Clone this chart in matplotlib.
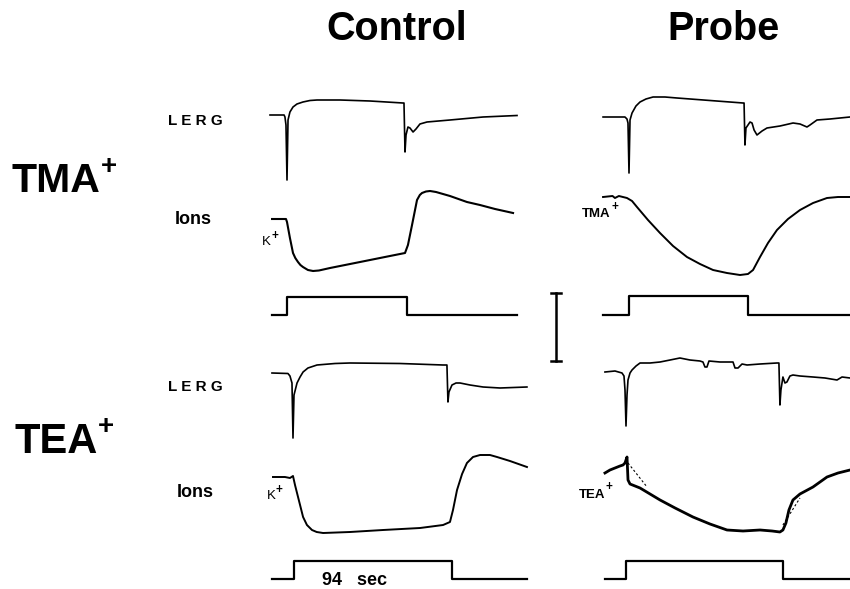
import matplotlib
matplotlib.use("Agg")
import matplotlib.pyplot as plt
from matplotlib.lines import Line2D

W, H, DPI = 850, 589, 100
plt.rcParams['font.family'] = ['Liberation Sans', 'DejaVu Sans']

# ---------------- data (time in s from light onset, amplitude in a.u.) -------------
STIM_DUR = 94.0  # sec

# TMA+ block, Control
tma_ctl_lerg_t = [-13.3, -2.3, -1.6, -0.8, 0, 0.8, 2.3, 4.7, 7.8, 12.5, 18.0, 23.5, 41.5, 65.0,
                  90.8, 91.6, 92.4, 93.2, 94.7, 96.3, 98.7, 101.0, 104.1, 109.6, 127.6, 153.5, 180.1]
tma_ctl_lerg_v = [0, 0, -2, -10, -65, -5, 3, 8, 11, 13, 14.5, 15, 15, 14,
                  12, 12, -37, -20, -12, -13, -17, -14, -9, -7, -5, -2, -0.5]
tma_ctl_ion_t = [-11.7, -0.8, 0, 2.3, 4.7, 6.5, 8.6, 10.5, 12.5, 16.4, 20.4, 25.0, 33.7, 57.2,
                 80.6, 92.4, 94.7, 97.9, 101.8, 104.0, 105.7, 108.8, 112.0, 116.7, 127.6,
                 140.9, 151.1, 162.9, 177.0]
tma_ctl_ion_v = [0, 0, -3, -19, -34, -39, -43, -46, -48, -51, -52, -51.5, -49, -43,
                 -37, -34, -26, -6, 19, 24, 26, 27.5, 28, 27, 23,
                 17, 14, 10, 6]
tma_ctl_stim_t = [-11.7, 0, STIM_DUR, 180.1]
tma_ctl_stim_v = [0, 18, 0, 0]

# TMA+ block, Probe
tma_prb_lerg_t = [-20.5, -3.2, -1.6, -0.8, 0, 0.8, 2.4, 5.5, 8.7, 13.4, 19.0, 28.4, 37.9, 64.0,
                  90.1, 90.9, 91.6, 92.4, 94.0, 95.6, 97.2, 98.8, 101.1, 105.1, 109.0, 119.3,
                  129.6, 135.1, 140.6, 143.0, 148.5, 158.8, 174.6]
tma_prb_lerg_v = [0, 0, -2, -6, -56, -3, 4, 11, 15, 18, 20, 20, 19, 16.5,
                  14, 14, -28, -11, -8, -5, -6, -13, -18, -14, -11, -9,
                  -6, -7, -10, -8, -3, -2, 0]
tma_prb_ion_t = [-20.5, -13.0, -11.1, -8.0, -1.6, 2.4, 6.3, 15.0, 24.5, 34.8, 45.8, 56.1, 66.4,
                 77.4, 87.7, 94.0, 98.0, 103.5, 109.8, 116.9, 125.6, 135.1, 145.4, 156.4,
                 165.1, 174.6]
tma_prb_ion_v = [0, 1, -1, 1, -1, -4, -10, -23, -36, -49, -60, -67, -73,
                 -76, -78, -77, -73, -60, -46, -33, -22, -13, -6, -1, 0, 0]
tma_prb_stim_t = [-20.5, 0, STIM_DUR, 174.6]
tma_prb_stim_v = [0, 19, 0, 0]

# TEA+ block, Control
tea_ctl_lerg_t = [-13.1, -3.6, -2.4, -1.2, -0.6, 0, 1.8, 3.6, 5.4, 8.3, 13.7, 24.4, 33.3, 63.1,
                  88.7, 91.0, 91.6, 92.2, 94.0, 96.4, 98.8, 104.7, 112.5, 122.6, 138.6]
tea_ctl_lerg_v = [0, -0.5, -3, -10, -65, -22, -10, -4, 1, 5, 8, 9.5, 10, 9.5,
                  8, 8, -29, -19, -12, -10, -10, -12, -14, -15, -14]
tea_ctl_ion_t = [-12.5, -5.4, -2.4, -0.6, 0.6, 3.6, 5.4, 7.7, 10.7, 13.5, 17.3, 33.3, 53.0, 75.0,
                 88.7, 92.8, 94.6, 97.0, 100.0, 102.9, 106.5, 110.7, 116.6, 120.8, 128.5, 138.6]
tea_ctl_ion_v = [0, 0, -1, 1, -8, -28, -40, -48, -53, -55, -56, -55, -53, -51,
                 -48, -45, -33, -13, 3, 14, 20, 22, 22, 20, 16, 10]
tea_ctl_stim_t = [-13.1, 0, STIM_DUR, 138.6]
tea_ctl_stim_v = [0, 18, 0, 0]

# TEA+ block, Probe
tea_prb_lerg_t = [-12.6, -6.6, -2.4, -1.2, -0.6, 0, 0.6, 1.2, 2.4, 3.6, 6.0, 8.4, 14.4, 20.4,
                  26.4, 32.3, 38.3, 44.3, 46.1, 47.3, 48.5, 49.7, 56.3, 64.1, 65.3, 67.1, 69.5,
                  72.5, 80.3, 90.4, 91.6, 92.2, 92.8, 94.0, 95.2, 96.4, 98.2, 100.0, 104.2,
                  112.0, 119.2, 126.4, 129.4, 134.2]
tea_prb_lerg_v = [0, 1, -1, -4, -18, -54, -23, -8, -1, 2, 6, 9, 9, 10,
                  12, 14, 12, 11, 10, 5, 5, 11, 10, 10, 4, 4, 8,
                  7, 8, 9, 9, -33, -18, -5, -11, -10, -4, -3, -4,
                  -5, -6, -8, -5, -6]
tea_prb_ion_t = [-12.6, -9.6, -6.6, -3.6, -1.8, -0.6, 0.6, 1.2, 2.4, 5.4, 8.4, 14.4, 20.4,
                 29.4, 40.1, 50.3, 60.5, 70.1, 80.3, 87.5, 92.2, 94.0, 95.8, 97.6, 100.0,
                 104.2, 112.0, 120.4, 127.0, 134.2]
tea_prb_ion_v = [0, 3, 5, 7, 8, 10, 16, -7, -11, -13, -15, -21, -27,
                 -35, -44, -51, -57, -58, -57, -58, -59, -57, -50, -37, -27,
                 -21, -14, -4, 0, 3]
tea_prb_fit1_t = [1.2, 12.6]
tea_prb_fit1_v = [10, -14]
tea_prb_fit2_t = [94.0, 104.2]
tea_prb_fit2_v = [-52, -25]
tea_prb_stim_t = [-12.6, 0, STIM_DUR, 134.2]
tea_prb_stim_v = [0, 18, 0, 0]

SCALE_BAR = 68  # a.u.

# ---------------- layout -------------------------------------------------------------
fig = plt.figure(figsize=(W / DPI, H / DPI), dpi=DPI)
fig.patch.set_facecolor('white')


def trace_axes(x0, x1, onset_px, s_per_px, base_px):
    """Axes spanning x0..x1 px with 1 a.u. = 1 px vertically, 0 at base_px."""
    ax = fig.add_axes([x0 / W, 1 - (base_px + 100) / H, (x1 - x0) / W, 200 / H])
    ax.set_xlim((x0 - onset_px) * s_per_px, (x1 - onset_px) * s_per_px)
    ax.set_ylim(-100, 100)
    ax.axis('off')
    ax.patch.set_alpha(0)
    return ax


lw = 1.2
# TMA control
a = trace_axes(262, 525, 287, 0.783, 115)
a.plot(tma_ctl_lerg_t, tma_ctl_lerg_v, color='black', lw=lw)
a = trace_axes(262, 525, 287, 0.783, 219)
a.plot(tma_ctl_ion_t, tma_ctl_ion_v, color='black', lw=1.5)
a = trace_axes(262, 525, 287, 0.783, 315)
a.plot(tma_ctl_stim_t, tma_ctl_stim_v, color='black', lw=1.6, drawstyle='steps-post')
# TMA probe
a = trace_axes(595, 850, 629, 0.79, 117)
a.plot(tma_prb_lerg_t, tma_prb_lerg_v, color='black', lw=lw)
a = trace_axes(595, 850, 629, 0.79, 197)
a.plot(tma_prb_ion_t, tma_prb_ion_v, color='black', lw=1.4)
a = trace_axes(595, 850, 629, 0.79, 315)
a.plot(tma_prb_stim_t, tma_prb_stim_v, color='black', lw=1.6, drawstyle='steps-post')
# TEA control
a = trace_axes(262, 530, 294, 0.595, 373)
a.plot(tea_ctl_lerg_t, tea_ctl_lerg_v, color='black', lw=lw)
a = trace_axes(262, 530, 294, 0.595, 477)
a.plot(tea_ctl_ion_t, tea_ctl_ion_v, color='black', lw=1.4)
a = trace_axes(262, 530, 294, 0.595, 579)
a.plot(tea_ctl_stim_t, tea_ctl_stim_v, color='black', lw=1.6, drawstyle='steps-post')
# TEA probe
a = trace_axes(595, 850, 626, 0.599, 372)
a.plot(tea_prb_lerg_t, tea_prb_lerg_v, color='black', lw=lw)
a = trace_axes(595, 850, 626, 0.599, 473)
a.plot(tea_prb_ion_t, tea_prb_ion_v, color='black', lw=2.0)
a.plot(tea_prb_fit1_t, tea_prb_fit1_v, color='black', lw=0.8, ls=(0, (2, 2)))
a.plot(tea_prb_fit2_t, tea_prb_fit2_v, color='black', lw=0.8, ls=(0, (2, 2)))
a = trace_axes(595, 850, 626, 0.599, 579)
a.plot(tea_prb_stim_t, tea_prb_stim_v, color='black', lw=1.6, drawstyle='steps-post')


# scale bar (figure pixels)
def fx(x):
    return x / W


def fy(y):
    return 1 - y / H


sb_x, sb_top = 556, 293
sb_bot = sb_top + SCALE_BAR
fig.add_artist(Line2D([fx(sb_x)] * 2, [fy(sb_top), fy(sb_bot)], color='black', lw=1.8))
for yy in (sb_top, sb_bot):
    fig.add_artist(Line2D([fx(sb_x - 5), fx(sb_x + 5)], [fy(yy)] * 2, color='black', lw=1.8))


# ---------------- text ---------------------------------------------------------------
def txt(x, y, s, size, ha='left', weight='bold', **kw):
    fig.text(fx(x), fy(y), s, fontsize=size, ha=ha, va='baseline', weight=weight, **kw)


txt(397, 40, 'Control', 28.5, ha='center')
txt(723, 40, 'Probe', 28.5, ha='center')
txt(12, 192, 'TMA', 29.5)
txt(101, 174, '+', 20)
txt(14, 453, 'TEA', 30)
txt(98, 434, '+', 20)
txt(168, 125, 'L E R G', 11)
txt(168, 391, 'L E R G', 11)
txt(175, 224, 'Ions', 13)
txt(177, 497, 'Ions', 13)
txt(262, 245, 'K', 9.5, weight='normal')
txt(271, 239, '+', 8.5)
txt(267, 499, 'K', 9.5, weight='normal')
txt(276, 493, '+', 8.5)
txt(582, 217, 'TMA', 9.5)
txt(611, 210, '+', 8.5)
txt(579, 498, 'TEA', 9.5)
txt(606, 490, '+', 8.5)
txt(322, 585, '94   sec', 13)

fig.savefig('out.png', dpi=DPI, facecolor='white')
